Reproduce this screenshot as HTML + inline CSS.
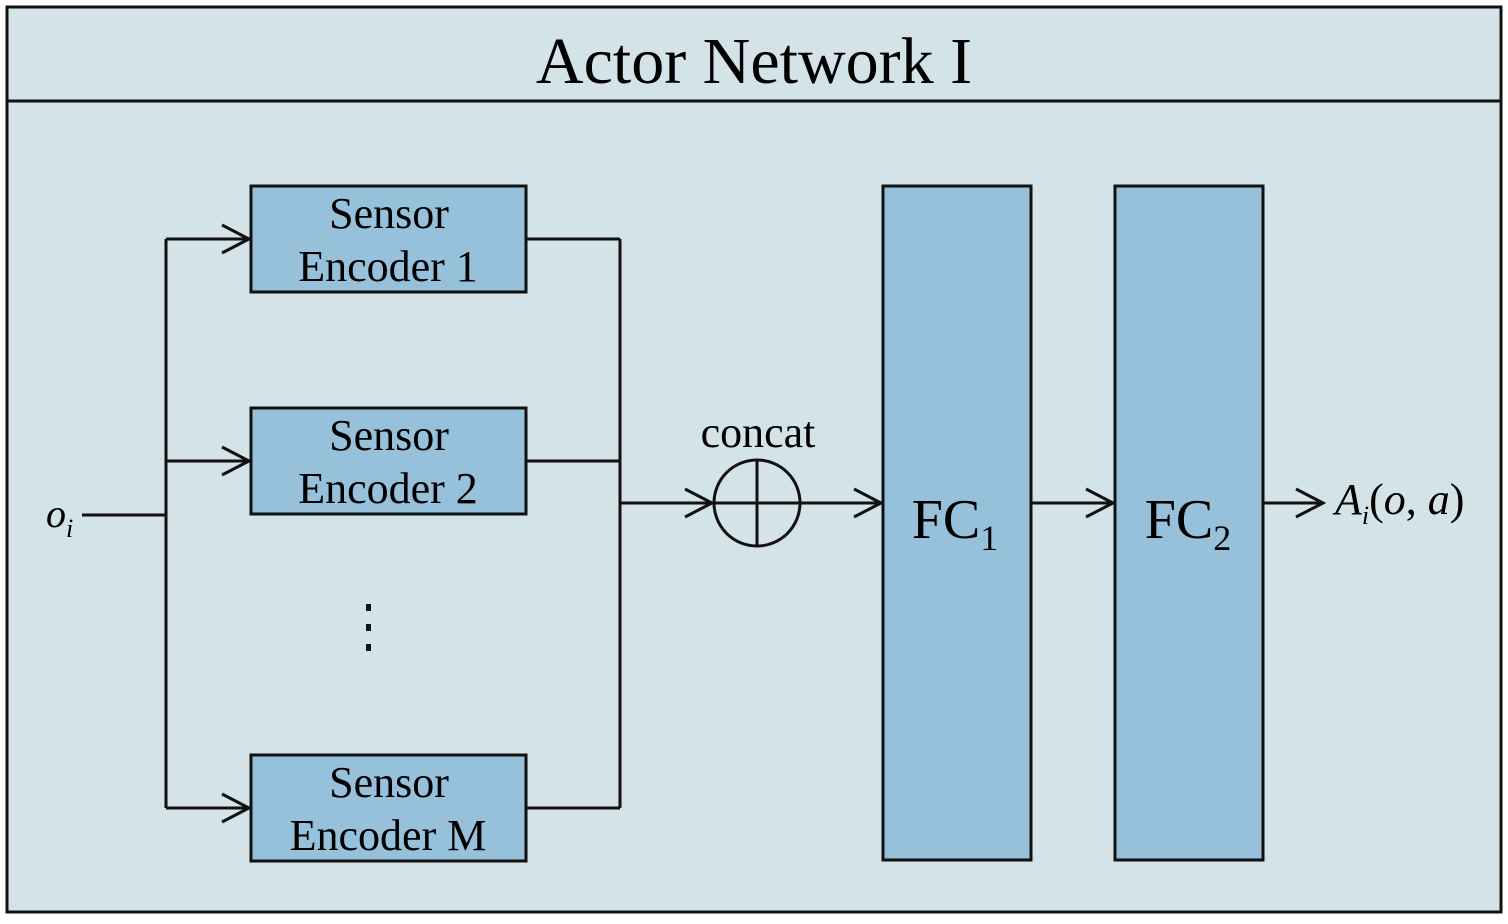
<!DOCTYPE html>
<html><head><meta charset="utf-8"><style>html,body{margin:0;padding:0;background:#fff}</style></head>
<body>
<svg width="1508" height="919" viewBox="0 0 1508 919" xmlns="http://www.w3.org/2000/svg" font-family="Liberation Serif, serif">
<rect x="0" y="0" width="1508" height="919" fill="#fff"/>
<rect x="7" y="7" width="1494" height="905" fill="#d4e3e8" stroke="#111" stroke-width="3"/>
<line x1="7" y1="101" x2="1501" y2="101" stroke="#111" stroke-width="3"/>
<text x="754" y="83" font-size="66" text-anchor="middle" fill="#000">Actor Network I</text>
<g fill="#97c1db" stroke="#111" stroke-width="3">
<rect x="251" y="186" width="275" height="106"/>
<rect x="251" y="408" width="275" height="106"/>
<rect x="251" y="755" width="275" height="106"/>
<rect x="883" y="186" width="148" height="674"/>
<rect x="1115" y="186" width="148" height="674"/>
</g>
<g font-size="44" text-anchor="middle" fill="#000">
<text x="389" y="228">Sensor</text><text x="388" y="281">Encoder 1</text>
<text x="389" y="450">Sensor</text><text x="388" y="503">Encoder 2</text>
<text x="389" y="797">Sensor</text><text x="388" y="850">Encoder M</text>
<text x="758" y="447">concat</text>
</g>
<g font-size="56" fill="#000" text-anchor="middle">
<text x="955" y="538">FC<tspan font-size="36" dy="12">1</tspan></text>
<text x="1188" y="538">FC<tspan font-size="36" dy="12">2</tspan></text>
</g>
<text x="46" y="527" font-size="40" font-style="italic">o<tspan font-size="26" dy="10">i</tspan></text>
<text x="1335" y="514" font-size="44" font-style="italic">A<tspan font-size="26" dy="10">i</tspan><tspan dy="-10" font-style="normal">(</tspan>o<tspan font-style="normal">,</tspan> a<tspan font-style="normal">)</tspan></text>
<g fill="none" stroke="#111" stroke-width="3">
<polyline points="82,515 166,515"/>
<polyline points="166,239 166,808"/>
<line x1="166" y1="239" x2="249" y2="239"/>
<line x1="166" y1="461" x2="249" y2="461"/>
<line x1="166" y1="808" x2="249" y2="808"/>
<line x1="526" y1="239" x2="620" y2="239"/>
<line x1="526" y1="461" x2="620" y2="461"/>
<line x1="526" y1="808" x2="620" y2="808"/>
<line x1="620" y1="239" x2="620" y2="808"/>
<line x1="620" y1="503" x2="712" y2="503"/>
<circle cx="757" cy="503" r="43"/>
<line x1="714" y1="503" x2="800" y2="503"/>
<line x1="757" y1="460" x2="757" y2="546"/>
<line x1="800" y1="503" x2="881" y2="503"/>
<line x1="1031" y1="503" x2="1113" y2="503"/>
<line x1="1263" y1="503" x2="1323" y2="503"/>
<polyline points="222,225 249,239 222,253"/>
<polyline points="222,447 249,461 222,475"/>
<polyline points="222,794 249,808 222,822"/>
<polyline points="685,489 712,503 685,517"/>
<polyline points="854,489 881,503 854,517"/>
<polyline points="1086,489 1113,503 1086,517"/>
<polyline points="1296,489 1323,503 1296,517"/>
</g>
<g fill="#111">
<rect x="366" y="604" width="5" height="7"/>
<rect x="366" y="624" width="5" height="7"/>
<rect x="366" y="644" width="5" height="7"/>
</g>
</svg>
</body></html>
